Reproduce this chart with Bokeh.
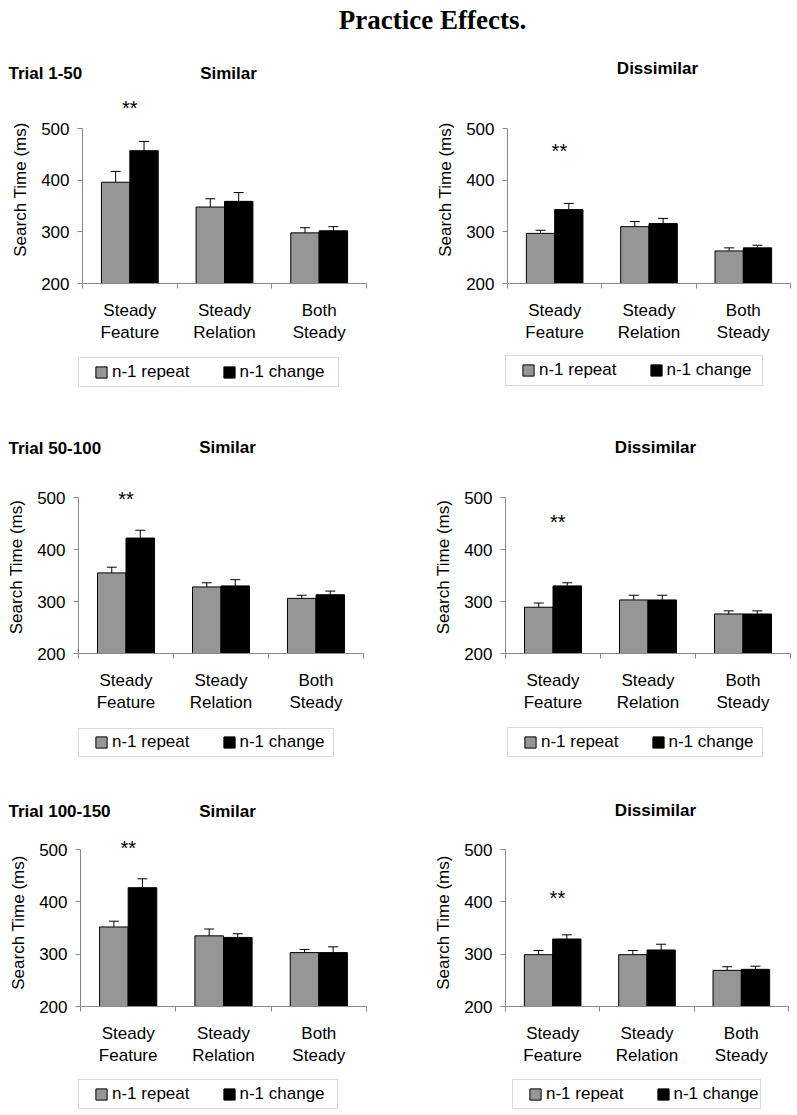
import numpy as np
from bokeh.plotting import figure
from bokeh.models import (Range1d, FixedTicker, Legend, LegendItem, Label,
                          BoxAnnotation, Whisker, TeeHead, ColumnDataSource)
from bokeh.layouts import column, row
from bokeh.embed import file_html
from bokeh.resources import INLINE
from bokeh.core.properties import value

# ---------------- data ----------------
title_text = "Practice Effects."
categories = ["Steady\nFeature", "Steady\nRelation", "Both\nSteady"]
series_names = ["n-1 repeat", "n-1 change"]
trial_labels = ["Trial 1-50", "Trial 50-100", "Trial 100-150"]
condition_labels = ["Similar", "Dissimilar"]
y_label = "Search Time (ms)"
y_ticks = [200, 300, 400, 500]
star_text = "**"

# Trial 1-50
t1_sim_repeat = [396, 348, 298]
t1_sim_change = [457, 359, 302]
t1_sim_repeat_err = [21, 16, 10]
t1_sim_change_err = [18, 17, 8]
t1_sim_star = 539

t1_dis_repeat = [297, 310, 263]
t1_dis_change = [343, 316, 269]
t1_dis_repeat_err = [6, 10, 6]
t1_dis_change_err = [12, 10, 5]
t1_dis_star = 457

# Trial 50-100
t2_sim_repeat = [355, 328, 306]
t2_sim_change = [422, 330, 313]
t2_sim_repeat_err = [11, 8, 6]
t2_sim_change_err = [15, 12, 7]
t2_sim_star = 497

t2_dis_repeat = [289, 303, 276]
t2_dis_change = [330, 303, 276]
t2_dis_repeat_err = [8, 9, 6]
t2_dis_change_err = [6, 9, 6]
t2_dis_star = 452

# Trial 100-150
t3_sim_repeat = [352, 335, 303]
t3_sim_change = [427, 332, 303]
t3_sim_repeat_err = [11, 13, 6]
t3_sim_change_err = [17, 7, 11]
t3_sim_star = 503

t3_dis_repeat = [299, 299, 269]
t3_dis_change = [329, 308, 271]
t3_dis_repeat_err = [8, 8, 7]
t3_dis_change_err = [8, 11, 6]
t3_dis_star = 408

panel_data = [
    [(t1_sim_repeat, t1_sim_change, t1_sim_repeat_err, t1_sim_change_err, t1_sim_star),
     (t1_dis_repeat, t1_dis_change, t1_dis_repeat_err, t1_dis_change_err, t1_dis_star)],
    [(t2_sim_repeat, t2_sim_change, t2_sim_repeat_err, t2_sim_change_err, t2_sim_star),
     (t2_dis_repeat, t2_dis_change, t2_dis_repeat_err, t2_dis_change_err, t2_dis_star)],
    [(t3_sim_repeat, t3_sim_change, t3_sim_repeat_err, t3_sim_change_err, t3_sim_star),
     (t3_dis_repeat, t3_dis_change, t3_dis_repeat_err, t3_dis_change_err, t3_dis_star)],
]

# ---------------- layout (page pixel coordinates) ----------------
FONT = "Liberation Sans"
GRAY_BAR = "#969696"
AXIS_GRAY = "#888888"
PAGE_W = 797
COL_X = [0, 400, PAGE_W]

# chart rows
rows_geom = [
    dict(top=88, ftop=95, y200=283, y500=128, bottom=350),
    dict(top=475, ftop=480, y200=653, y500=497, bottom=715),
    dict(top=835, ftop=838, y200=1006, y500=849, bottom=1068),
]
# frame (left, width) per panel
frame_geom = [
    [(82, 284), (507, 283)],
    [(78, 285), (505, 285)],
    [(80, 286), (505, 283)],
]
# strips between chart rows: (top, bottom)
strips = [(0, 88), (350, 475), (715, 835), (1068, 1113)]

# legend boxes per row: (x0, x1, y0, y1)
legend_boxes = [
    [(78, 338, 357, 386), (505, 762, 355, 385)],
    [(78, 333, 728, 756), (507, 762, 727, 756)],
    [(78, 337, 1079, 1108), (512, 760, 1079, 1108)],
]
# headers per chart row: (text, x, y, align)
headers = [
    [(trial_labels[0], 8, 73, "left"), (condition_labels[0], 228, 73, "center"),
     (condition_labels[1], 657, 68, "center")],
    [(trial_labels[1], 8, 448, "left"), (condition_labels[0], 227, 447, "center"),
     (condition_labels[1], 655, 447, "center")],
    [(trial_labels[2], 8, 811, "left"), (condition_labels[0], 227, 811, "center"),
     (condition_labels[1], 655, 810, "center")],
]
LEGEND_ITEM_H = 20


def make_panel(ri, ci):
    rg = rows_geom[ri]
    fl, fw = frame_geom[ri][ci]
    repeat, change, rerr, cerr, star_y = panel_data[ri][ci]

    fig_w = COL_X[ci + 1] - COL_X[ci]
    fig_h = rg["bottom"] - rg["top"]
    frame_h = rg["y200"] - rg["ftop"]
    px_per = (rg["y200"] - rg["y500"]) / 300.0
    y_end = 200 + frame_h / px_per
    left_b = fl - COL_X[ci]
    right_b = fig_w - left_b - fw

    p = figure(width=fig_w, height=fig_h,
               x_range=Range1d(0, 3), y_range=Range1d(200, y_end),
               min_border_left=left_b, min_border_right=right_b,
               min_border_top=rg["ftop"] - rg["top"],
               min_border_bottom=rg["bottom"] - rg["y200"],
               toolbar_location=None, tools="", output_backend="svg")
    p.grid.visible = False
    p.outline_line_color = None

    xc = np.arange(len(categories)) + 0.5
    rep = np.array(repeat, dtype=float)
    chg = np.array(change, dtype=float)
    src_r = ColumnDataSource(dict(x=xc - 0.15, top=rep, hi=rep + np.array(rerr)))
    src_c = ColumnDataSource(dict(x=xc + 0.15, top=chg, hi=chg + np.array(cerr)))

    p.vbar(x="x", top="top", bottom=200, width=0.3, source=src_r,
           fill_color=GRAY_BAR, line_color="black", line_width=1)
    p.vbar(x="x", top="top", bottom=200, width=0.3, source=src_c,
           fill_color="black", line_color="black", line_width=1)
    for src in (src_r, src_c):
        w = Whisker(base="x", lower="top", upper="hi", source=src, dimension="height",
                    line_color="black", line_width=1, lower_head=None,
                    upper_head=TeeHead(size=10, line_color="black", line_width=1))
        p.add_layout(w)

    star_x = xc[0] + (0.05 if ci == 1 else 0.0)
    p.text(x=[star_x], y=[star_y], text=[star_text], text_align="center",
           text_baseline="middle", text_font=value(FONT), text_font_size="20px",
           text_color="black")

    ya = p.yaxis[0]
    ya.ticker = FixedTicker(ticks=y_ticks)
    ya.bounds = (200, 500)
    ya.axis_label = y_label
    ya.axis_label_text_font = FONT
    ya.axis_label_text_font_size = "17px"
    ya.axis_label_text_font_style = "normal"
    ya.axis_label_text_color = "black"
    ya.axis_label_standoff = 8
    ya.major_label_text_font = FONT
    ya.major_label_text_font_size = "17px"
    ya.major_label_text_color = "black"
    ya.major_label_standoff = 8
    ya.major_tick_out = 5
    ya.major_tick_in = 0
    ya.axis_line_color = AXIS_GRAY
    ya.major_tick_line_color = AXIS_GRAY

    xa = p.xaxis[0]
    xa.ticker = FixedTicker(ticks=list(xc), minor_ticks=[0, 1, 2, 3])
    xa.major_label_overrides = {float(x): c for x, c in zip(xc, categories)}
    xa.major_label_text_font = FONT
    xa.major_label_text_font_size = "17px"
    xa.major_label_text_color = "black"
    xa.major_label_standoff = 12
    xa.major_tick_line_color = None
    xa.major_tick_out = 5
    xa.major_tick_in = 0
    xa.minor_tick_out = 5
    xa.minor_tick_in = 0
    xa.minor_tick_line_color = AXIS_GRAY
    xa.axis_line_color = AXIS_GRAY
    return p, src_r, src_c


def make_strip(si, sources):
    y0, y1 = strips[si]
    s = figure(width=PAGE_W, height=y1 - y0,
               x_range=Range1d(0, PAGE_W), y_range=Range1d(y1, y0),
               min_border=0, toolbar_location=None, tools="",
               x_axis_location=None, y_axis_location=None, output_backend="svg")
    s.grid.visible = False
    s.outline_line_color = None

    if si == 0:
        s.add_layout(Label(x=432, y=19, text=title_text, text_font="Liberation Serif",
                           text_font_style="bold", text_font_size="27px",
                           text_color="black", text_align="center",
                           text_baseline="middle"))
    # legends for the chart row above this strip
    if si >= 1:
        for ci, (bx0, bx1, by0, by1) in enumerate(legend_boxes[si - 1]):
            src_r, src_c = sources[ci]
            # hidden copies of the panel's bars, only used for the legend swatches
            r1 = s.vbar(x="x", top="top", bottom=200, width=0.3, source=src_r,
                        fill_color=GRAY_BAR, line_color="black", line_width=1,
                        visible=False)
            r2 = s.vbar(x="x", top="top", bottom=200, width=0.3, source=src_c,
                        fill_color="black", line_color="black", line_width=1,
                        visible=False)
            s.add_layout(BoxAnnotation(left=bx0, right=bx1, top=by0, bottom=by1,
                                       fill_alpha=0, line_color="#808080",
                                       line_width=1))
            cy = (by0 + by1) / 2.0
            legend = Legend(items=[LegendItem(label=series_names[0], renderers=[r1]),
                                   LegendItem(label=series_names[1], renderers=[r2])],
                            orientation="horizontal",
                            location=(bx0 + 16, y1 - cy - LEGEND_ITEM_H / 2.0),
                            label_text_font=FONT, label_text_font_size="17px",
                            label_text_color="black",
                            glyph_width=14, glyph_height=14, label_standoff=4,
                            spacing=32, padding=0, margin=0,
                            label_height=LEGEND_ITEM_H,
                            border_line_color=None, background_fill_alpha=0)
            s.add_layout(legend)
    # headers for the chart row below this strip
    if si <= 2:
        for text, hx, hy, align in headers[si]:
            s.add_layout(Label(x=hx, y=hy, text=text, text_font=FONT,
                               text_font_style="bold", text_font_size="17px",
                               text_align=align, text_baseline="middle",
                               text_color="black"))
    return s


panel_rows = []
row_sources = []
for ri in range(3):
    pl, lr, lc = make_panel(ri, 0)
    pr, rr, rc = make_panel(ri, 1)
    panel_rows.append(row(pl, pr))
    row_sources.append([(lr, lc), (rr, rc)])

items = []
for i in range(4):
    items.append(make_strip(i, row_sources[i - 1] if i >= 1 else None))
    if i < 3:
        items.append(panel_rows[i])
layout = column(*items)

open("out.html", "w").write(file_html(layout, INLINE))
